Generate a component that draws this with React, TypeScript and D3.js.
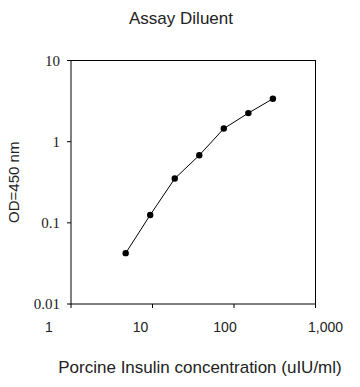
import React, { useEffect, useRef } from "react";
import * as d3 from "d3";

const concentrations = [4.6875, 9.375, 18.75, 37.5, 75, 150, 300];
const odValues = [0.0423, 0.125, 0.351, 0.68, 1.45, 2.25, 3.38];
const xTicks = [1, 10, 100, 1000];
const xTickLabels = ["1", "10", "100", "1,000"];
const yTicks = [0.01, 0.1, 1, 10];
const yTickLabels = ["0.01", "0.1", "1", "10"];
const xLabelDx = [-22, -12, -9, 10];

const W = 360;
const H = 387;
const plot = { left: 71, right: 315.5, top: 60.5, bottom: 304 };

export default function App() {
  const ref = useRef<SVGSVGElement>(null);

  useEffect(() => {
    const svg = d3.select(ref.current);
    svg.selectAll("*").remove();

    const x = d3.scaleLog().domain([1, 1000]).range([plot.left, plot.right]);
    const y = d3.scaleLog().domain([0.01, 10]).range([plot.bottom, plot.top]);

    svg.append("rect").attr("width", W).attr("height", H).attr("fill", "#fff");

    // plot box
    svg
      .append("rect")
      .attr("x", plot.left)
      .attr("y", plot.top)
      .attr("width", plot.right - plot.left)
      .attr("height", plot.bottom - plot.top)
      .attr("fill", "none")
      .attr("stroke", "#000")
      .attr("stroke-width", 1);

    // y ticks
    const yg = svg.append("g");
    yTicks.forEach((t, i) => {
      yg.append("line")
        .attr("x1", plot.left - 4)
        .attr("x2", plot.left)
        .attr("y1", y(t))
        .attr("y2", y(t))
        .attr("stroke", "#000");
      yg.append("text")
        .attr("x", 60)
        .attr("y", y(t))
        .attr("dy", "0.35em")
        .attr("text-anchor", "end")
        .attr("font-family", "'Liberation Serif', 'Times New Roman', serif")
        .attr("font-size", 15)
        .attr("fill", "#222")
        .text(yTickLabels[i]);
    });

    // x ticks
    const xg = svg.append("g");
    xTicks.forEach((t, i) => {
      xg.append("line")
        .attr("x1", x(t))
        .attr("x2", x(t))
        .attr("y1", plot.bottom)
        .attr("y2", plot.bottom + 4)
        .attr("stroke", "#000");
      xg.append("text")
        .attr("x", x(t) + xLabelDx[i])
        .attr("y", 332)
        .attr("text-anchor", "middle")
        .attr("font-family", "'Liberation Sans', Arial, sans-serif")
        .attr("font-size", 14)
        .attr("fill", "#222")
        .text(xTickLabels[i]);
    });

    // line
    const line = d3
      .line<number>()
      .x((_, i) => x(concentrations[i]))
      .y((d) => y(d));
    svg
      .append("path")
      .attr("d", line(odValues))
      .attr("fill", "none")
      .attr("stroke", "#000")
      .attr("stroke-width", 1);

    svg
      .append("g")
      .selectAll("circle")
      .data(odValues)
      .join("circle")
      .attr("cx", (_, i) => x(concentrations[i]))
      .attr("cy", (d) => y(d))
      .attr("r", 3.2)
      .attr("fill", "#000");

    // title
    svg
      .append("text")
      .attr("x", 181)
      .attr("y", 24)
      .attr("text-anchor", "middle")
      .attr("font-family", "'Liberation Sans', Arial, sans-serif")
      .attr("font-size", 17)
      .attr("fill", "#222")
      .text("Assay Diluent");

    // x label
    svg
      .append("text")
      .attr("x", 200)
      .attr("y", 373)
      .attr("text-anchor", "middle")
      .attr("font-family", "'Liberation Sans', Arial, sans-serif")
      .attr("font-size", 17)
      .attr("fill", "#222")
      .text("Porcine Insulin concentration (uIU/ml)");

    // y label
    svg
      .append("text")
      .attr("transform", `translate(19, ${(plot.top + plot.bottom) / 2}) rotate(-90)`)
      .attr("text-anchor", "middle")
      .attr("font-family", "'Liberation Sans', Arial, sans-serif")
      .attr("font-size", 15)
      .attr("fill", "#222")
      .text("OD=450 nm");
  }, []);

  return (
    <svg
      ref={ref}
      width={W}
      height={H}
      style={{ position: "absolute", left: 0, top: 0, display: "block" }}
    />
  );
}
